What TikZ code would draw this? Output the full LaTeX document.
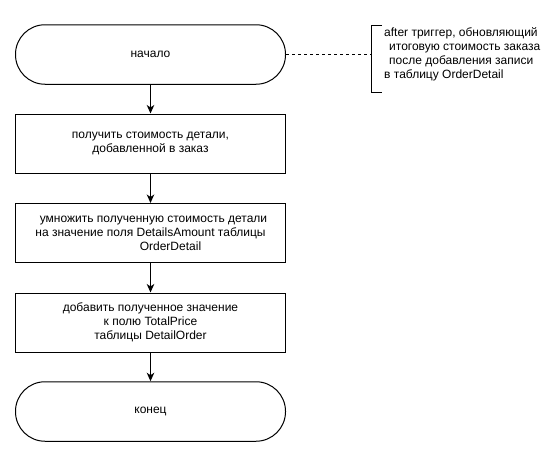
\documentclass[tikz,border=0pt]{standalone}
\usepackage{fontspec}
\setmainfont{Liberation Sans}
\usetikzlibrary{arrows.meta}
\begin{document}
\begin{tikzpicture}[x=1pt, y=-1pt,
  txt/.style={font=\fontsize{12}{14}\selectfont, text=black},
  terminal/.style={txt, draw, line width=1pt, rounded corners=29.5pt,
    minimum width=270pt, minimum height=59.5pt, inner sep=0pt},
  process/.style={txt, draw, line width=1pt, minimum width=270pt,
    minimum height=59pt, inner sep=0pt, align=center},
  flow/.style={line width=1pt, -{Stealth[length=8.5pt, width=7.5pt, inset=2.5pt]}},
  notelink/.style={line width=1pt, dash pattern=on 3pt off 3pt},
  bracket/.style={line width=1pt}]
  \useasboundingbox (0,0) rectangle (558,455);

  % main flow
  \node[terminal] (start) at (150.5,54.5) {начало};
  \node[process] (p1) at (150.5,143.5)
    {получить стоимость детали,\\добавленной в заказ};
  \node[process] (p2) at (150.5,233)
    {\hspace*{6pt}умножить полученную стоимость детали\\на значение поля DetailsAmount таблицы\\\hspace*{40pt}OrderDetail};
  \node[process] (p3) at (150.5,322.5)
    {добавить полученное значение\\к полю TotalPrice\\таблицы DetailOrder};
  \node[terminal] (stop) at (150.5,411.5) {конец};

  \draw[flow] (start) -- (p1);
  \draw[flow] (p1) -- (p2);
  \draw[flow] (p2) -- (p3);
  \draw[flow] (p3) -- (stop);

  % annotation
  \coordinate (bt) at (371,25);
  \coordinate (bb) at (371,92);
  \draw[bracket] ([xshift=11pt]bt) -- (bt) -- (bb) -- ([xshift=11pt]bb);
  \node[txt, anchor=west, align=left, inner sep=0pt] (note) at (384,54.5)
    {after триггер, обновляющий\\\hspace*{5pt}итоговую стоимость заказа\\\hspace*{5pt}после добавления записи\\в таблицу OrderDetail};
  \draw[notelink] (start.east) -- (start.east -| bt);
\end{tikzpicture}
\end{document}
